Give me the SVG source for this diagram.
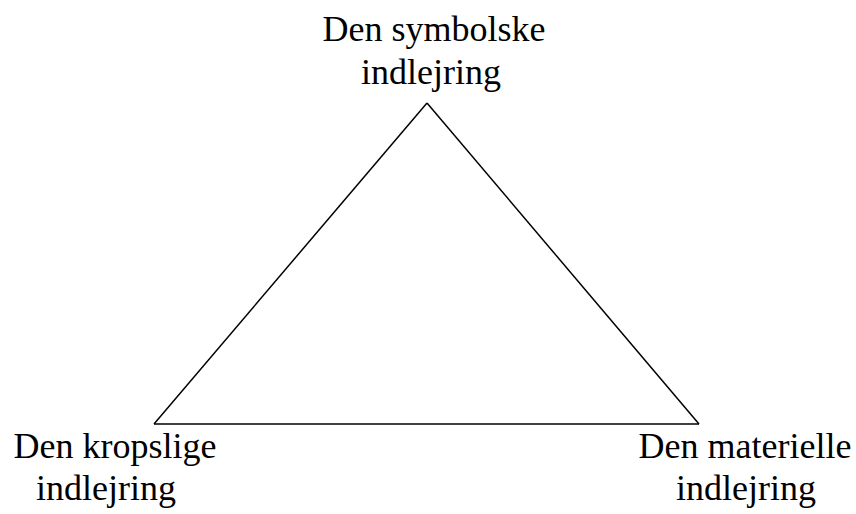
<svg xmlns="http://www.w3.org/2000/svg" width="856" height="514" viewBox="0 0 856 514">
<style>
.lbl{font-size:36px;fill:#000;text-anchor:middle}
.edge{fill:none;stroke:#000;stroke-width:1.5}
</style>
<rect width="856" height="514" fill="#fff"/>
<g id="connectors">
<line class="edge" x1="427" y1="103" x2="154" y2="424"/>
<line class="edge" x1="427" y1="103" x2="699" y2="424"/>
<line class="edge" x1="154" y1="424" x2="699" y2="424"/>
</g>
<g id="top">
<text class="lbl" font-family="Liberation Serif" x="434" y="41">Den symbolske</text>
<text class="lbl" font-family="Liberation Serif" x="431" y="84">indlejring</text>
</g>
<g id="left">
<text class="lbl" font-family="Liberation Serif" x="115" y="458">Den kropslige</text>
<text class="lbl" font-family="Liberation Serif" x="106" y="500">indlejring</text>
</g>
<g id="right">
<text class="lbl" font-family="Liberation Serif" x="745" y="458">Den materielle</text>
<text class="lbl" font-family="Liberation Serif" x="746" y="500">indlejring</text>
</g>
</svg>
